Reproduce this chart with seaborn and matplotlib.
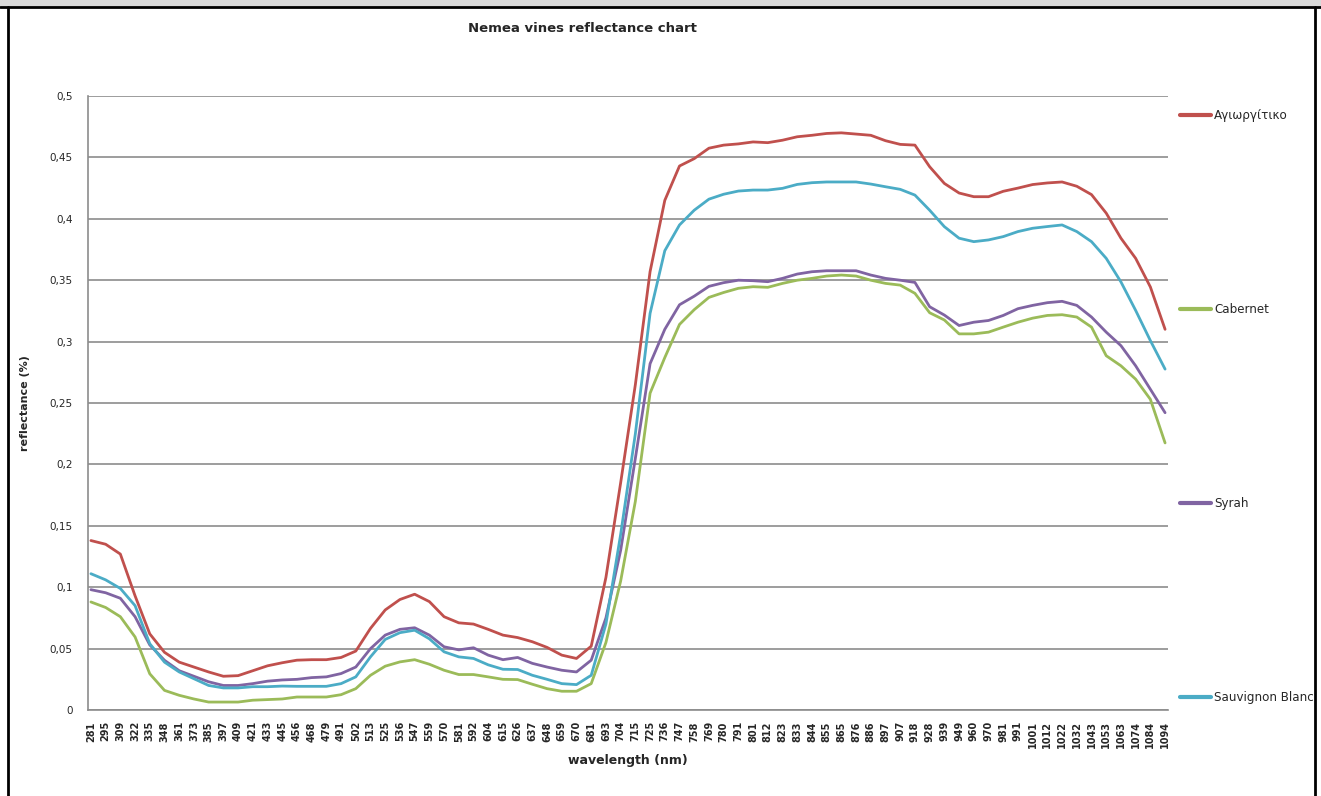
import numpy as np
import pandas as pd
import seaborn as sns
import matplotlib.pyplot as plt
from matplotlib.patches import Rectangle
from matplotlib.lines import Line2D

# wavelength labels (nm) shown on the category axis
wavelengths = [281, 295, 309, 322, 335, 348, 361, 373, 385, 397, 409, 421, 433, 445,
               456, 468, 479, 491, 502, 513, 525, 536, 547, 559, 570, 581, 592, 604,
               615, 626, 637, 648, 659, 670, 681, 693, 704, 715, 725, 736, 747, 758,
               769, 780, 791, 801, 812, 823, 833, 844, 855, 865, 876, 886, 897, 907,
               918, 928, 939, 949, 960, 970, 981, 991, 1001, 1012, 1022, 1032, 1043,
               1053, 1063, 1074, 1084, 1094]

agiorgitiko = [0.138, 0.135, 0.127, 0.093, 0.062, 0.047, 0.039, 0.035, 0.031, 0.0275,
               0.028, 0.032, 0.036, 0.0385, 0.0406, 0.041, 0.041, 0.0428, 0.048, 0.0665,
               0.0815, 0.090, 0.0943, 0.0883, 0.076, 0.071, 0.070, 0.0657, 0.061, 0.059,
               0.0556, 0.051, 0.0447, 0.042, 0.052, 0.108, 0.185, 0.265, 0.357, 0.415,
               0.443, 0.449, 0.4575, 0.460, 0.461, 0.4626, 0.462, 0.464, 0.4668, 0.468,
               0.4695, 0.470, 0.469, 0.468, 0.4636, 0.4606, 0.460, 0.4424, 0.4288, 0.421,
               0.418, 0.418, 0.4224, 0.425, 0.4279, 0.4292, 0.430, 0.4265, 0.4197, 0.4046,
               0.3842, 0.3678, 0.3445, 0.310]

cabernet = [0.088, 0.0835, 0.076, 0.0595, 0.0295, 0.016, 0.012, 0.009, 0.0065, 0.0065,
            0.0065, 0.008, 0.0085, 0.009, 0.0106, 0.0106, 0.0106, 0.0125, 0.0174, 0.0283,
            0.0357, 0.0392, 0.041, 0.0373, 0.0324, 0.0289, 0.0289, 0.027, 0.025, 0.0248,
            0.021, 0.0174, 0.0153, 0.0153, 0.0215, 0.055, 0.105, 0.170, 0.258, 0.287,
            0.314, 0.326, 0.336, 0.340, 0.3434, 0.3447, 0.3442, 0.3474, 0.350, 0.3515,
            0.3534, 0.3542, 0.3534, 0.350, 0.3474, 0.346, 0.3393, 0.3235, 0.3176, 0.3063,
            0.3063, 0.3077, 0.3118, 0.3158, 0.3191, 0.3213, 0.3219, 0.320, 0.3118, 0.2885,
            0.2803, 0.2694, 0.253, 0.2175]

syrah = [0.098, 0.0955, 0.091, 0.076, 0.053, 0.0405, 0.032, 0.0275, 0.023, 0.020,
         0.020, 0.0215, 0.0235, 0.0245, 0.025, 0.0264, 0.027, 0.0297, 0.035, 0.050,
         0.061, 0.0657, 0.067, 0.061, 0.0515, 0.049, 0.0507, 0.0447, 0.041, 0.0428,
         0.038, 0.035, 0.0324, 0.031, 0.0406, 0.075, 0.130, 0.205, 0.282, 0.310,
         0.330, 0.337, 0.345, 0.348, 0.350, 0.3496, 0.3488, 0.3515, 0.355, 0.3569,
         0.3577, 0.3577, 0.3577, 0.3542, 0.3515, 0.350, 0.3482, 0.3284, 0.3216, 0.3131,
         0.3158, 0.3172, 0.3213, 0.3268, 0.3295, 0.3317, 0.3328, 0.3295, 0.320, 0.3077,
         0.2967, 0.2803, 0.2612, 0.2421]

sauvignon = [0.111, 0.106, 0.099, 0.085, 0.054, 0.039, 0.031, 0.0255, 0.020, 0.018,
             0.018, 0.019, 0.019, 0.0195, 0.0193, 0.0193, 0.0193, 0.0215, 0.027, 0.0433,
             0.0575, 0.063, 0.065, 0.058, 0.0474, 0.0433, 0.042, 0.0368, 0.0332, 0.033,
             0.0283, 0.025, 0.0215, 0.0207, 0.0283, 0.070, 0.143, 0.225, 0.323, 0.374,
             0.395, 0.407, 0.416, 0.420, 0.4226, 0.4234, 0.4234, 0.4248, 0.428, 0.4294,
             0.430, 0.430, 0.430, 0.4283, 0.4261, 0.424, 0.4193, 0.407, 0.3936, 0.3842,
             0.3814, 0.3828, 0.3855, 0.3896, 0.3923, 0.3937, 0.395, 0.3896, 0.3814, 0.3678,
             0.3486, 0.3254, 0.3008, 0.2776]

varieties = ['Αγιωργίτικο', 'Cabernet', 'Syrah', 'Sauvignon Blanc']
colors = ['#C0504D', '#9BBB59', '#8064A2', '#4BACC6']

#%% long table for seaborn
series = [agiorgitiko, cabernet, syrah, sauvignon]
pos = np.arange(len(wavelengths))
df = pd.concat([pd.DataFrame({'pos': pos, 'reflectance': s, 'variety': v})
                for s, v in zip(series, varieties)], ignore_index=True)

sns.set_style('white')
plt.rcParams['font.family'] = ['DejaVu Sans']

fig = plt.figure(figsize=(13.21, 7.96), dpi=100)
ax = fig.add_axes([0.0666, 0.108, 0.8176, 0.7714])

sns.lineplot(data=df, x='pos', y='reflectance', hue='variety', hue_order=varieties,
             palette=colors, linewidth=2, ax=ax)

# axes styling, Excel-like
ax.set_xlim(-0.2, len(wavelengths) - 1 + 0.2)
ax.set_ylim(0, 0.5)
yt = np.arange(0, 0.501, 0.05)
ax.set_yticks(yt)
ax.set_yticklabels(['0'] + [('%g' % t).replace('.', ',') for t in yt[1:]], fontsize=7.5)
ax.set_xticks(pos)
ax.set_xticklabels([str(w) for w in wavelengths], rotation=90, fontsize=7,
                   fontweight='bold')
ax.set_xticks(np.arange(-0.125, len(wavelengths) - 0.8, 0.125), minor=True)
ax.tick_params(axis='x', which='both', direction='out', length=5, color='#9a9a9a',
               width=0.6, pad=3)
ax.tick_params(axis='y', direction='out', length=5, color='#8a8a8a', width=1, pad=6)
ax.yaxis.grid(True, color='#8c8c8c', linewidth=1.2)
for side in ['top', 'right']:
    ax.spines[side].set_visible(False)
for side in ['left', 'bottom']:
    ax.spines[side].set_color('#8c8c8c')
    ax.spines[side].set_linewidth(1.2)

ax.set_xlabel('wavelength (nm)', fontsize=9, fontweight='bold', labelpad=4)
ax.set_ylabel('reflectance (%)', fontsize=8, fontweight='bold', labelpad=14)
fig.text(0.441, 0.964, 'Nemea vines reflectance chart', ha='center', va='center',
         fontsize=9.5, fontweight='bold')

leg = ax.legend(loc='upper left', bbox_to_anchor=(1.003, 0.992), frameon=False,
                fontsize=8.6, labelspacing=15.15, handlelength=2.6, handletextpad=0.3,
                borderaxespad=0.3)
for h in leg.legend_handles:
    h.set_linewidth(3)

# outer frame of the screenshot
fig.patches.append(Rectangle((0, 1 - 6 / 796), 1, 6 / 796, transform=fig.transFigure,
                             color='#d9d9d9', zorder=0))
fig.add_artist(Line2D([0, 1], [1 - 7 / 796] * 2, transform=fig.transFigure,
                      color='black', linewidth=2))
fig.add_artist(Line2D([8 / 1321] * 2, [0, 1 - 7 / 796], transform=fig.transFigure,
                      color='black', linewidth=2))
fig.add_artist(Line2D([1315 / 1321] * 2, [0, 1 - 7 / 796], transform=fig.transFigure,
                      color='black', linewidth=2))

fig.savefig('out.png', dpi=100)
